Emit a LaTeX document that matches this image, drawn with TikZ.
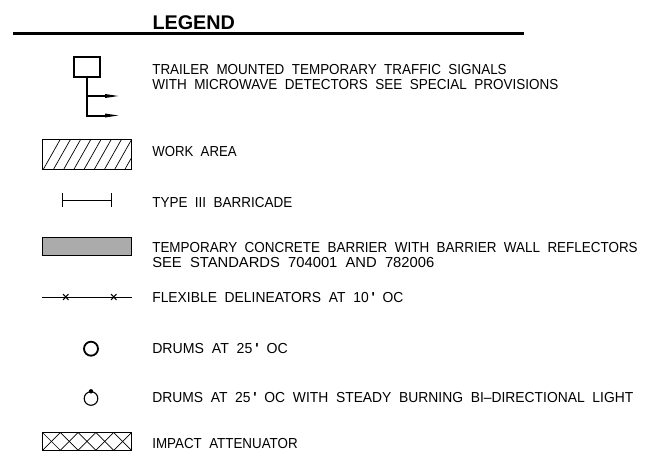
\documentclass[tikz,border=0pt]{standalone}
\usepackage{graphicx}
\usepackage{fontspec}
\setmainfont{Liberation Sans}
\newfontfamily\lgfont[WordSpace=2]{Liberation Sans}
\newcommand{\fitline}[2]{\resizebox{#1pt}{\height}{#2}}
\newcommand{\tick}{\kern3pt\textbf{'}\kern8pt}
\tikzset{
 lab/.style={anchor=base west,inner sep=0pt,outer sep=0pt,font=\lgfont\fontsize{14.5}{14.5}\selectfont},
 sym/.style={draw=black,line width=1pt},
 hair/.style={draw=black,line width=0.7pt},
 heavy/.style={draw=black,line width=2pt},
 tip/.style={fill=black},
}
\begin{document}
\begin{tikzpicture}[x=1pt,y=-1pt]
\useasboundingbox (0,0) rectangle (654,466);
\node[anchor=base west,inner sep=0pt,font=\bfseries\fontsize{19.8}{19.8}\selectfont] (title) at (152.3,29) {LEGEND};
\coordinate (ruleA) at (13,33.3);
\coordinate (ruleB) at (524,33.3);
\draw[line width=2.6pt] (ruleA) -- (ruleB);
% signal
\draw[heavy] (73.7,57) rectangle (100,76.8);
\draw[heavy,line join=miter] (87,76.8) -- (87,115.5) -- (106,115.5);
\draw[heavy] (87,96) -- (106,96);
\fill[tip] (105,94) -- (118.3,96) -- (105,98) -- cycle;
\fill[tip] (105,113.5) -- (118.3,115.5) -- (105,117.5) -- cycle;
\node[lab] (t1) at (152.3,74.5) {\fitline{354.4}{TRAILER MOUNTED TEMPORARY TRAFFIC SIGNALS}};
\node[lab] (t1b) at (152.3,89.5) {\fitline{406}{WITH MICROWAVE DETECTORS SEE SPECIAL PROVISIONS}};
% work area
\begin{scope}
\clip (42.5,139) rectangle (131.5,169);
\foreach \i in {0,...,10} \draw[hair] (43.5+\i*10.2,169) -- (43.5+\i*10.2+17,139);
\end{scope}
\draw[sym] (42.5,139) rectangle (131.5,169);
\node[lab] (t2) at (152.3,156.7) {\fitline{84.4}{WORK AREA}};
% barricade
\draw[sym] (62.7,193) -- (62.7,207);
\draw[sym] (111,193) -- (111,207);
\draw[sym] (62.7,200) -- (111,200);
\node[lab] (t3) at (152.3,207.3) {\fitline{140}{TYPE III BARRICADE}};
% barrier
\draw[sym,fill=black!33] (42.5,237) rectangle (131.5,255);
\node[lab] (t4) at (152.3,252.6) {\fitline{485.4}{TEMPORARY CONCRETE BARRIER WITH BARRIER WALL REFLECTORS}};
\node[lab] (t4b) at (152.3,267.6) {\fitline{282}{SEE STANDARDS 704001 AND 782006}};
% delineators
\draw[sym] (41.7,297) -- (132.3,297);
\draw[sym] (63,294) -- (68.5,300) (68.5,294) -- (63,300);
\draw[sym] (111,294) -- (116.5,300) (116.5,294) -- (111,300);
\node[lab] (t5) at (152.3,302.7) {\fitline{251}{FLEXIBLE DELINEATORS AT 10\tick OC}};
% drums
\draw[line width=1.8pt] (91,348.7) circle (7);
\node[lab] (t6) at (152.3,353.3) {\fitline{135.4}{DRUMS AT 25\tick OC}};
\draw[line width=1.1pt] (91,398.5) circle (6.8);
\fill (91,391.3) circle (2.2);
\node[lab] (t7) at (152.3,402.3) {\fitline{481}{DRUMS AT 25\tick OC WITH STEADY BURNING BI–DIRECTIONAL LIGHT}};
% attenuator
\begin{scope}
\clip (42.5,432.5) rectangle (131.5,450.3);
\foreach \i in {0,...,4} {
 \draw[hair] (42.5+\i*17.8,432.5) -- (42.5+\i*17.8+17.8,450.3);
 \draw[hair] (42.5+\i*17.8,450.3) -- (42.5+\i*17.8+17.8,432.5);
}
\end{scope}
\draw[sym] (42.5,432.5) rectangle (131.5,450.3);
\node[lab] (t8) at (152.3,448.3) {\fitline{145.4}{IMPACT ATTENUATOR}};
\end{tikzpicture}
\end{document}
